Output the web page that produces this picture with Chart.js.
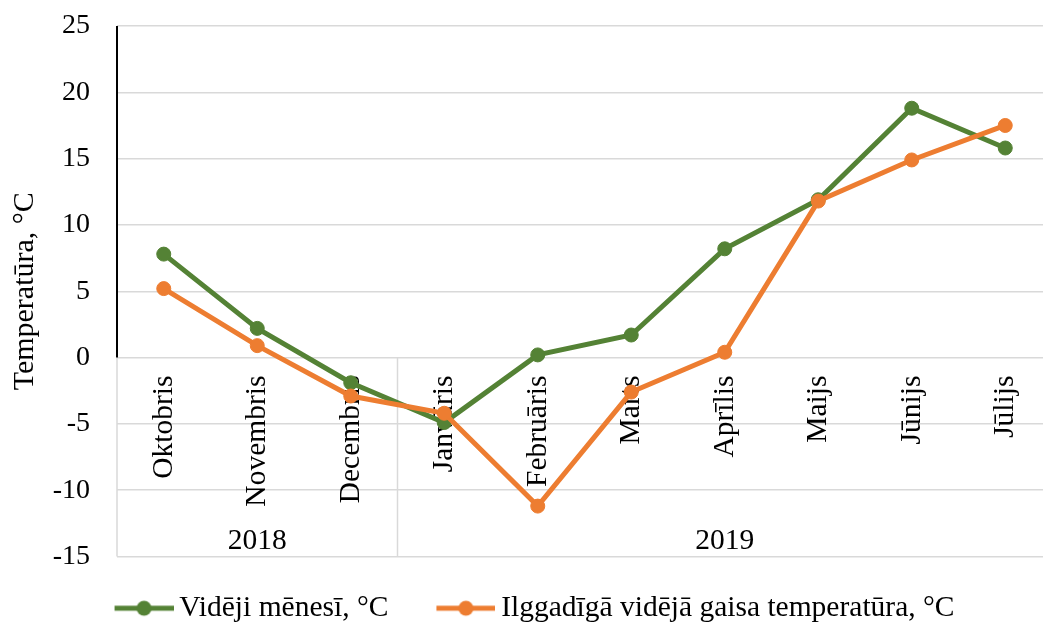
<!DOCTYPE html>
<html><head><meta charset="utf-8">
<script src="https://cdn.jsdelivr.net/npm/chart.js@4.4.1/dist/chart.umd.min.js"></script>
<style>
html,body{margin:0;padding:0;background:#fff;overflow:hidden}
#wrap{width:1043px;height:626px;overflow:hidden;position:relative;background:#fff}
#box{width:1060px;height:633px;position:absolute;left:0;top:0}
</style></head><body>
<div id="wrap"><div id="box"><canvas id="c"></canvas></div></div>
<script>
const categories = ['Oktobris','Novembris','Decembris','Janvāris','Februāris','Marts','Aprīlis','Maijs','Jūnijs','Jūlijs'];
const groupLabels = ['2018','2019'];
const groupFirst = [0, 3];
const groupLast = [2, 9];
const monthlyMean = [7.8, 2.2, -1.9, -4.9, 0.2, 1.7, 8.2, 11.9, 18.8, 15.8];
const longTermMean = [5.2, 0.9, -2.9, -4.2, -11.2, -2.6, 0.4, 11.8, 14.9, 17.5];
const seriesNames = ['Vidēji mēnesī, °C', 'Ilggadīgā vidējā gaisa temperatūra, °C'];
const yMin = -15, yMax = 25, yStep = 5;
const yTitle = 'Temperatūra, °C';

const GREEN = '#548235', ORANGE = '#ED7D31', GRID = '#d9d9d9';
const FONT = "'Liberation Serif', 'Times New Roman', serif";
const FS = 29.5;
Chart.defaults.font.family = FONT;
Chart.defaults.font.size = FS;
Chart.defaults.color = '#000';

function makeIcon(color) {
  const c = document.createElement('canvas');
  c.width = 79; c.height = 18;
  const g = c.getContext('2d');
  g.strokeStyle = color; g.lineWidth = 5;
  g.beginPath(); g.moveTo(20, 9); g.lineTo(79, 9); g.stroke();
  g.fillStyle = color;
  g.beginPath(); g.arc(49.5, 9, 7.5, 0, Math.PI * 2); g.fill();
  return c;
}

const decor = {
  id: 'decor',
  beforeDatasetsDraw(chart) {
    const {ctx, scales: {x, y}} = chart;
    const y0 = y.getPixelForValue(0), yb = y.getPixelForValue(yMin), yt = y.getPixelForValue(yMax);
    const edge = (i) => {
      if (i < 0) return x.left;
      if (i >= categories.length - 1) return x.right;
      return (x.getPixelForValue(i) + x.getPixelForValue(i + 1)) / 2;
    };
    ctx.save();
    ctx.strokeStyle = GRID; ctx.lineWidth = 1.5;
    const bounds = [x.left];
    groupLast.forEach(l => bounds.push(edge(l)));
    bounds.forEach(bx => { ctx.beginPath(); ctx.moveTo(bx, y0); ctx.lineTo(bx, yb); ctx.stroke(); });
    ctx.strokeStyle = '#000'; ctx.lineWidth = 2;
    ctx.beginPath(); ctx.moveTo(x.left, yt); ctx.lineTo(x.left, y0); ctx.stroke();
    ctx.fillStyle = '#000'; ctx.font = FS + 'px ' + FONT;
    ctx.textAlign = 'center'; ctx.textBaseline = 'middle';
    groupLabels.forEach((lab, gi) => {
      const a = edge(groupFirst[gi] - 1), b = edge(groupLast[gi]);
      ctx.fillText(lab, (a + b) / 2, yb - 15);
    });
    ctx.restore();
  }
};

new Chart(document.getElementById('c'), {
  type: 'line',
  data: {
    labels: categories,
    datasets: [
      {label: seriesNames[0], data: monthlyMean, borderColor: GREEN, backgroundColor: GREEN,
       borderWidth: 5, pointRadius: 7, pointBorderWidth: 1, pointHoverRadius: 7, tension: 0, order: 1},
      {label: seriesNames[1], data: longTermMean, borderColor: ORANGE, backgroundColor: ORANGE,
       borderWidth: 5, pointRadius: 7, pointBorderWidth: 1, pointHoverRadius: 7, tension: 0, order: 0}
    ]
  },
  options: {
    responsive: true, maintainAspectRatio: false, animation: false, devicePixelRatio: 1,
    layout: {padding: {left: 0, right: 2, top: 26, bottom: 0}},
    plugins: {
      tooltip: {enabled: false},
      legend: {
        position: 'bottom',
        labels: {
          usePointStyle: true, pointStyleWidth: 61, padding: 37,
          font: {size: FS, family: FONT}, color: '#000',
          generateLabels(chart) {
            return chart.data.datasets.map((ds, i) => ({
              text: ds.label,
              pointStyle: makeIcon(ds.borderColor),
              fillStyle: ds.borderColor, strokeStyle: ds.borderColor, lineWidth: 0,
              hidden: false, datasetIndex: i, fontColor: '#000'
            }));
          }
        }
      }
    },
    scales: {
      x: {
        type: 'category', position: {y: 0}, offset: true, z: 1,
        grid: {display: false, drawTicks: false},
        border: {display: false},
        ticks: {minRotation: 90, maxRotation: 90, autoSkip: false, padding: 18, font: {size: FS}, color: '#000'}
      },
      y: {
        min: yMin, max: yMax,
        ticks: {stepSize: yStep, padding: 0, font: {size: 28}, color: '#000'},
        grid: {color: GRID, lineWidth: 1.5, drawTicks: true, tickLength: 27, tickColor: 'rgba(0,0,0,0)'},
        border: {display: false},
        title: {display: true, text: yTitle, font: {size: 30}, color: '#000', padding: {top: 7, bottom: 0}},
        afterFit(s) { s.width = 117; }
      }
    }
  },
  plugins: [decor]
});
</script>
</body></html>
